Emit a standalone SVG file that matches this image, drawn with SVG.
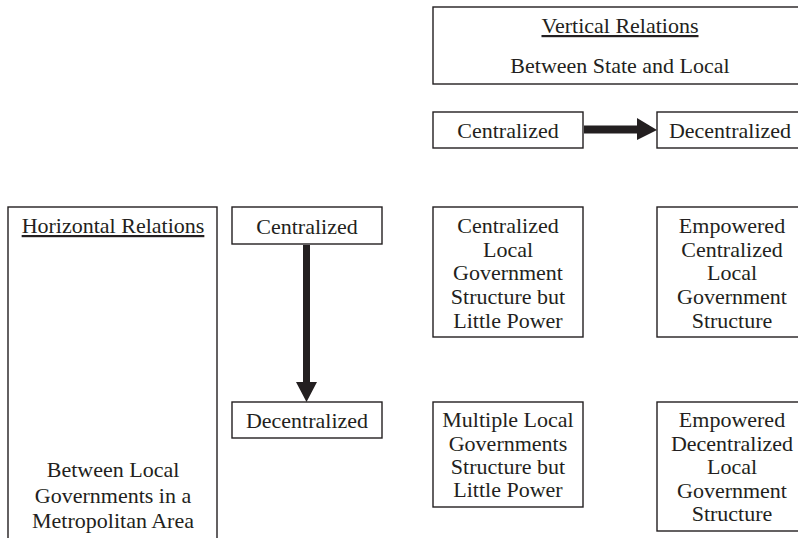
<svg xmlns="http://www.w3.org/2000/svg" width="798" height="538" viewBox="0 0 798 538">
<style>
.box{fill:#fff;stroke:#231f20;stroke-width:1.4}
text{font-family:"Liberation Serif","Times New Roman",serif;font-size:22px;fill:#231f20;text-anchor:middle}
.u{text-decoration:underline}
.arr{fill:#231f20}
</style>
<rect width="798" height="538" fill="#fff"/>
<g id="vertical-relations">
<rect class="box" x="433" y="7" width="380" height="77"/>
<text x="620" y="33" class="u">Vertical Relations</text>
<text x="620" y="73">Between State and Local</text>
</g>
<g id="v-centralized">
<rect class="box" x="433" y="112" width="150" height="36"/>
<text x="508" y="138">Centralized</text>
</g>
<g id="v-decentralized">
<rect class="box" x="657" y="112" width="160" height="36"/>
<text x="730" y="138">Decentralized</text>
</g>
<g id="horizontal-relations">
<rect class="box" x="8" y="207" width="209" height="340"/>
<text x="113" y="233" class="u">Horizontal Relations</text>
<text x="113" y="477">Between Local</text>
<text x="113" y="503">Governments in a</text>
<text x="113" y="528">Metropolitan Area</text>
</g>
<g id="h-centralized">
<rect class="box" x="232" y="207" width="150" height="37"/>
<text x="307" y="234">Centralized</text>
</g>
<g id="h-decentralized">
<rect class="box" x="232" y="402" width="150" height="36"/>
<text x="307" y="428">Decentralized</text>
</g>
<g id="cell-1">
<rect class="box" x="433" y="207" width="150" height="130"/>
<text x="508" y="233">Centralized</text>
<text x="508" y="257">Local</text>
<text x="508" y="280">Government</text>
<text x="508" y="304">Structure but</text>
<text x="508" y="328">Little Power</text>
</g>
<g id="cell-2">
<rect class="box" x="657" y="207" width="160" height="130"/>
<text x="732" y="233">Empowered</text>
<text x="732" y="257">Centralized</text>
<text x="732" y="280">Local</text>
<text x="732" y="304">Government</text>
<text x="732" y="328">Structure</text>
</g>
<g id="cell-3">
<rect class="box" x="433" y="402" width="150" height="105"/>
<text x="508" y="427">Multiple Local</text>
<text x="508" y="451">Governments</text>
<text x="508" y="474">Structure but</text>
<text x="508" y="497">Little Power</text>
</g>
<g id="cell-4">
<rect class="box" x="657" y="402" width="160" height="129"/>
<text x="732" y="427">Empowered</text>
<text x="732" y="451">Decentralized</text>
<text x="732" y="474">Local</text>
<text x="732" y="498">Government</text>
<text x="732" y="521">Structure</text>
</g>
<g id="connectors">
<polygon class="arr" points="584,125.5 637,125.5 637,118 657,130 637,140 637,133.5 584,133.5"/>
<polygon class="arr" points="303,245 310,245 310,382 317,382 306.5,402 296,382 303,382"/>
</g>
</svg>
